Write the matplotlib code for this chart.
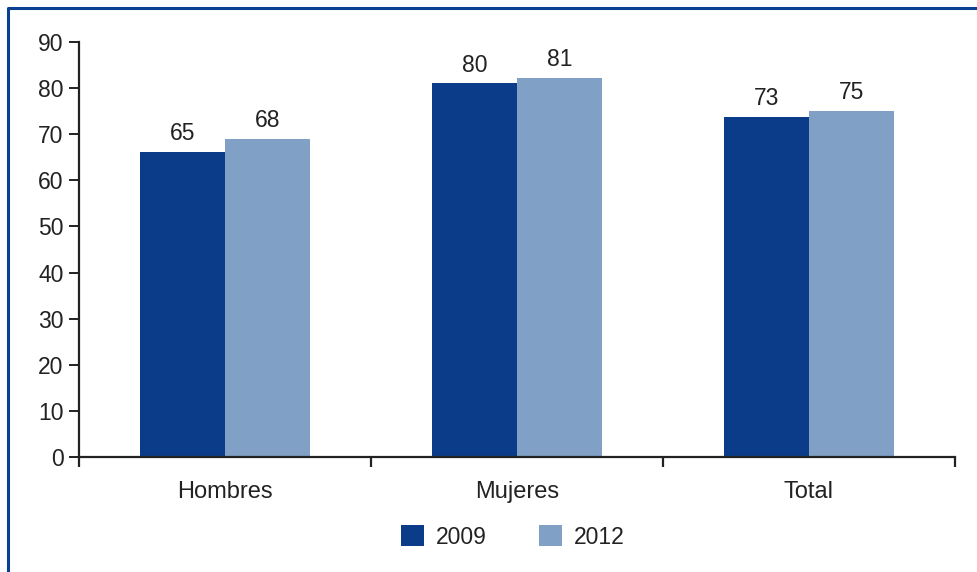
import numpy as np
import matplotlib.pyplot as plt
from matplotlib.lines import Line2D

plt.rcParams['font.family'] = ['Liberation Sans', 'DejaVu Sans']

categories = ['Hombres', 'Mujeres', 'Total']
years = ['2009', '2012']
values_2009 = [66.2, 81.0, 73.8]
values_2012 = [69.0, 82.2, 75.1]
labels_2009 = ['65', '80', '73']
labels_2012 = ['68', '81', '75']
colors = ['#0B3C89', '#81A0C6']
text_color = '#222222'

fig = plt.figure(figsize=(9.78, 5.72), dpi=100)
ax = fig.add_axes([79 / 978, 1 - 457 / 572, 876 / 978, 415 / 572])

x = np.arange(len(categories))
width = 0.29
series = [(values_2009, labels_2009), (values_2012, labels_2012)]
for i, (vals, labs) in enumerate(series):
    bars = ax.bar(x + (i - 0.5) * width, vals, width, color=colors[i], label=years[i], zorder=2)
    for b, lab in zip(bars, labs):
        ax.annotate(lab, (b.get_x() + b.get_width() / 2, b.get_height()),
                    xytext=(0, 5), textcoords='offset points',
                    ha='center', va='bottom', fontsize=16.5, color=text_color)

ax.set_xlim(-0.5, 2.5)
ax.set_ylim(0, 90)
ax.set_yticks(range(0, 91, 10))
ax.set_xticks(x)
ax.set_xticklabels(categories)
ax.set_xticks([-0.5, 0.5, 1.5, 2.5], minor=True)

for s in ['top', 'right']:
    ax.spines[s].set_visible(False)
for s in ['left', 'bottom']:
    ax.spines[s].set_color(text_color)
    ax.spines[s].set_linewidth(1.6)
    ax.spines[s].set_zorder(3)

ax.tick_params(axis='y', length=7, width=1.4, pad=4, labelsize=16.5, colors=text_color)
ax.tick_params(axis='x', which='major', length=0, pad=17, labelsize=17, colors=text_color)
ax.tick_params(axis='x', which='minor', length=7, width=1.6, color=text_color)

fig.legend(loc='center', bbox_to_anchor=(513 / 978, 1 - 537 / 572), ncol=2,
           frameon=False, fontsize=16.5, handlelength=1.0, handleheight=1.0,
           handletextpad=0.5, columnspacing=2.3, labelcolor=text_color)

# blue frame on left and top
bx = 8 / 978
by = 1 - 8 / 572
fig.add_artist(Line2D([bx, bx, 1], [0, by, by], transform=fig.transFigure,
                      color='#0B3F91', linewidth=2.2))

fig.savefig('out.png', dpi=100)
